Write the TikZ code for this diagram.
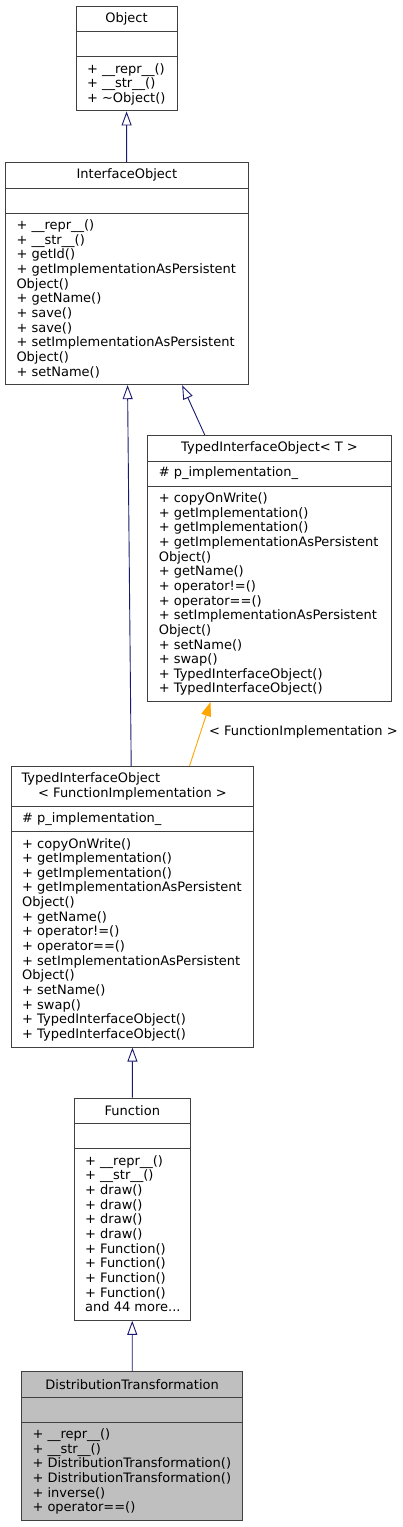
\documentclass[tikz,border=0pt]{standalone}
\usepackage{fontspec}
\setmainfont{DejaVu Sans}
\usepackage{xcolor}
\usepackage{tikz}
\usetikzlibrary{arrows.meta, shapes.multipart}
\definecolor{edgeblue}{HTML}{191970}
\definecolor{edgeorange}{HTML}{FFA500}
\definecolor{boxline}{HTML}{404040}
\definecolor{selfgray}{HTML}{BFBFBF}

\begin{document}
\begin{tikzpicture}[
    x=1pt, y=-1pt,
    font=\fontsize{13}{14.65}\selectfont,
    classbox/.style={rectangle split, rectangle split parts=3, draw=boxline, line width=1pt,
                     inner sep=0pt, anchor=north west, fill=white},
    selfbox/.style={classbox, fill=selfgray},
    inherit/.style={-{Triangle[open, length=14pt, width=10pt]}, edgeblue, line width=0.9pt},
    tmplarr/.style={-{Triangle[length=14pt, width=10pt]}, edgeorange, line width=0.9pt},
]
    \useasboundingbox (0,0) rectangle (403,1527);

    % ── Part helpers: title / attributes / members ──
    \def\ctitle#1#2{\parbox[c][24.5pt][c]{#1}{\centering #2}}
    \def\cempty#1{\parbox[c][24pt][c]{#1}{\null}}
    \def\cattr#1#2{\parbox[c][24pt][c]{#1}{\raggedright\leftskip=11pt #2}}
    \def\cmembers#1#2#3{\parbox[c][#2][t]{#1}{\raggedright\leftskip=11pt\lineskiplimit=-10pt\rule{0pt}{16pt}#3}}

    % ── Base classes ──
    \node[classbox] (obj) at (75.5, 5.5) {\ctitle{101pt}{Object}%
        \nodepart{two}\cempty{101pt}%
        \nodepart{three}\cmembers{101pt}{53.45pt}{+ \_\_repr\_\_()\\+ \_\_str\_\_()\\+ \textasciitilde Object()}};

    \node[classbox] (io) at (5, 162) {\ctitle{242.7pt}{InterfaceObject}%
        \nodepart{two}\cempty{242.7pt}%
        \nodepart{three}\cmembers{242.7pt}{170.65pt}{+ \_\_repr\_\_()\\+ \_\_str\_\_()\\+ getId()\\%
            + getImplementationAsPersistent\\Object()\\+ getName()\\+ save()\\+ save()\\%
            + setImplementationAsPersistent\\Object()\\+ setName()}};

    % ── Template ──
    \node[classbox] (tio) at (147.3, 435) {\ctitle{243.4pt}{TypedInterfaceObject< T >}%
        \nodepart{two}\cattr{243.4pt}{\# p\_implementation\_}%
        \nodepart{three}\cmembers{243.4pt}{214.6pt}{+ copyOnWrite()\\+ getImplementation()\\%
            + getImplementation()\\+ getImplementationAsPersistent\\Object()\\+ getName()\\%
            + operator!=()\\+ operator==()\\+ setImplementationAsPersistent\\Object()\\%
            + setName()\\+ swap()\\+ TypedInterfaceObject()\\+ TypedInterfaceObject()}};

    % ── Instantiation ──
    \node[classbox] (tfi) at (10.7, 766) {\parbox[c][39pt][c]{242.6pt}{\raggedright\leftskip=10.3pt
            TypedInterfaceObject\\\hspace*{16.7pt}< FunctionImplementation >}%
        \nodepart{two}\cattr{242.6pt}{\# p\_implementation\_}%
        \nodepart{three}\cmembers{242.6pt}{214.6pt}{+ copyOnWrite()\\+ getImplementation()\\%
            + getImplementation()\\+ getImplementationAsPersistent\\Object()\\+ getName()\\%
            + operator!=()\\+ operator==()\\+ setImplementationAsPersistent\\Object()\\%
            + setName()\\+ swap()\\+ TypedInterfaceObject()\\+ TypedInterfaceObject()}};

    % ── Derived classes ──
    \node[classbox] (func) at (73.7, 1097.7) {\ctitle{116.3pt}{Function}%
        \nodepart{two}\cempty{116.3pt}%
        \nodepart{three}\cmembers{116.3pt}{170.65pt}{+ \_\_repr\_\_()\\+ \_\_str\_\_()\\%
            + draw()\\+ draw()\\+ draw()\\+ draw()\\+ Function()\\+ Function()\\%
            + Function()\\+ Function()\\and 44 more...}};

    \node[selfbox] (dt) at (21, 1371) {\ctitle{221.3pt}{DistributionTransformation}%
        \nodepart{two}\cempty{221.3pt}%
        \nodepart{three}\cmembers{221.3pt}{97.4pt}{+ \_\_repr\_\_()\\+ \_\_str\_\_()\\%
            + DistributionTransformation()\\+ DistributionTransformation()\\%
            + inverse()\\+ operator==()}};

    % Inheritance arrows
    \draw[inherit] (io) -- (obj);
    \draw[inherit] ([xshift=-64.7pt]tio.north) -- ([xshift=55.3pt]io.south);
    \draw[inherit] ([xshift=-1.3pt]tfi.north) -- ([xshift=0.7pt]io.south);
    \draw[inherit] (func) -- (tfi);
    \draw[inherit] (dt) -- (func);

    % Template instantiation
    \draw[tmplarr] ([xshift=57pt]tfi.north) -- node[pos=0.53, anchor=west, inner sep=0pt, xshift=8pt, text=black]
        {< FunctionImplementation >} ([xshift=-59pt]tio.south);

\end{tikzpicture}
\end{document}
